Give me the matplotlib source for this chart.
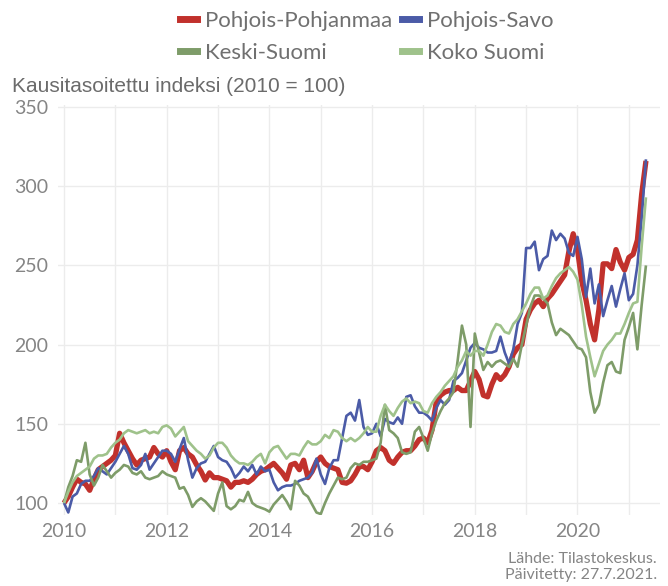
import numpy as np
import matplotlib
matplotlib.use("Agg")
import matplotlib.pyplot as plt
from matplotlib.lines import Line2D

start_year = 2010

pohjois_pohjanmaa = [
    100, 104, 110, 115, 113, 112, 108, 115, 121, 123, 125, 127,
    130, 144, 138, 133, 128, 124, 127, 128, 129, 135, 131, 129,
    133, 126, 121, 133, 135, 131, 129, 124, 120, 114.5, 119, 116,
    116, 115, 114, 110, 113, 113, 114, 113, 115, 118, 120, 121,
    123, 125, 122, 119, 115, 124, 125, 121, 127, 116, 120, 126,
    129, 125, 123, 122, 121, 113, 112.5, 114, 118, 123, 123, 121,
    126, 133, 135, 133, 127, 125, 129, 132, 133, 133, 136, 140,
    141, 138, 146, 164, 168, 170, 171, 171, 173, 171, 171, 177,
    183, 178, 168, 167, 175, 181, 178, 181, 186, 194, 198, 200,
    216, 222, 226, 228, 224, 229, 232, 236, 240, 244, 259, 270,
    260, 240, 228, 213, 203, 222, 251, 251, 248, 260, 252, 247,
    255, 257, 266, 295, 316,
]

pohjois_savo = [
    100, 94, 104, 106, 112, 114, 114, 117, 122, 120, 118, 122,
    126, 131, 136, 131, 122, 121, 124, 131, 121, 125, 129, 133,
    133, 131, 126, 134, 141, 127, 116, 122, 125, 126, 131, 136,
    129, 127, 126, 122, 116, 119, 123, 120, 124, 118, 123, 120,
    121, 113, 108, 110, 111, 111, 112, 114, 115, 116, 119, 128,
    118, 112, 122, 127, 127, 141, 155, 157, 152, 165, 148, 143,
    144, 150, 142, 153, 151, 150, 154, 150, 167, 168, 161, 157,
    157, 155, 152, 160, 165, 162, 165, 177, 179, 182, 190, 198,
    201, 198, 197, 195, 195, 196, 205, 195, 188, 197, 213, 220,
    261, 261, 265, 247, 254, 256, 272, 266, 270, 267, 258, 256,
    268, 254, 230, 248, 226, 238, 218, 228, 237, 224, 235, 245,
    228, 232, 250, 280, 317,
]

keski_suomi = [
    100, 110, 117, 127, 126, 138, 118, 111, 116, 124, 120, 116,
    119, 121, 124, 123, 119, 118, 120, 116, 115, 116, 117, 120,
    118, 117, 116, 109, 110, 105, 97.5, 101, 103, 101, 98, 95,
    106, 113, 98, 96, 98, 102, 101, 107, 100, 98, 97, 96,
    94.5, 99, 102, 105, 101, 96, 114, 111, 106, 104, 99, 94,
    93, 100, 106, 111, 116, 115, 116, 122, 125, 124, 126, 126,
    127, 128, 138, 162, 146, 144, 141, 132, 131, 132, 145, 148,
    141, 133, 144, 152, 158, 163, 166, 170, 190, 212, 200, 148,
    207, 195, 184, 189, 186, 189, 190, 188, 186, 191, 186, 200,
    212, 224, 231, 231, 229, 226, 214, 206, 210, 208, 206, 202,
    198, 197, 192, 170, 157, 162, 176, 187, 189, 183, 182, 203,
    211, 220, 197, 225, 250,
]

koko_suomi = [
    100, 107, 113, 117, 119, 121, 123, 128, 130, 130, 131, 135,
    138, 140, 144, 146, 145, 144, 145, 146, 144, 145, 144, 148,
    149, 147, 142, 145, 148, 139, 136, 133, 131, 128, 130, 135,
    138, 138, 135, 130, 127, 125, 125, 124, 126, 129, 131, 125,
    132, 135, 136, 132, 128, 131, 131, 130, 135, 139, 137, 137,
    139, 143, 141, 146, 145, 141, 139, 141, 139, 141, 144, 148,
    145, 145, 155, 162, 158, 155, 160, 164, 166, 163, 164, 163,
    158, 157, 163, 167, 170, 174, 177, 180, 186, 190, 196, 193,
    196, 196, 193, 200, 208, 213, 212, 208, 207, 213, 216, 221,
    226, 232, 236, 236, 229, 231, 237, 242, 245, 247, 249, 246,
    241, 225, 205, 192, 180, 188, 196, 200, 203, 207, 207, 213,
    220, 226, 227, 262, 293,
]

series_names = ["Pohjois-Pohjanmaa", "Pohjois-Savo", "Keski-Suomi", "Koko Suomi"]
series_values = [pohjois_pohjanmaa, pohjois_savo, keski_suomi, koko_suomi]
series_colors = ["#c1312c", "#4b5ba7", "#7e9c69", "#9fc28b"]
series_widths = [3.8, 1.9, 1.9, 1.9]

y_ticks = [100, 150, 200, 250, 300, 350]
x_ticks = [2010, 2012, 2014, 2016, 2018, 2020]
y_title = "Kausitasoitettu indeksi (2010 = 100)"
caption = "Lähde: Tilastokeskus.\nPäivitetty: 27.7.2021."

W, H = 668, 586
fig = plt.figure(figsize=(W / 100, H / 100), dpi=100)
ax = fig.add_axes([58 / W, 1 - 515 / H, (660 - 58) / W, (515 - 105) / H])

for name, vals, col, lw in zip(series_names, series_values, series_colors, series_widths):
    x = start_year + np.arange(len(vals)) / 12.0
    ax.plot(x, vals, color=col, lw=lw, solid_joinstyle="round", solid_capstyle="butt", label=name)

ax.set_xlim(2009.883, 2021.607)
ax.set_ylim(92.4, 351.3)
ax.set_yticks(y_ticks)
ax.set_xticks(x_ticks)
ax.set_xticks(range(2010, 2022), minor=True)
ax.grid(True, which="both", axis="x", color="#ececec", lw=1.0)
ax.grid(True, which="major", axis="y", color="#ececec", lw=1.0)
ax.set_axisbelow(True)
for s in ax.spines.values():
    s.set_visible(False)
ax.tick_params(which="both", length=0)
ax.tick_params(axis="y", pad=7, labelsize=14, labelcolor="#858585")
ax.tick_params(axis="x", pad=6, labelsize=14, labelcolor="#858585")
for lab in ax.get_xticklabels() + ax.get_yticklabels():
    lab.set_family("Lato")

fig.text(12 / W, 1 - 86 / H, y_title, ha="left", va="center",
         fontsize=15, color="#6b6b6b", family="Liberation Sans")

fig.text(657 / W, 1 - 567 / H, caption, ha="right", va="center",
         fontsize=11.5, color="#858585", family="Lato",
         linespacing=1.25)

handles = [Line2D([0], [0], color=c, lw=5) for c in series_colors]
order = [0, 2, 1, 3]
leg = fig.legend([handles[i] for i in order], [series_names[i] for i in order],
                 ncol=2, loc="center", bbox_to_anchor=(367 / W, 1 - 37 / H),
                 frameon=False, handlelength=0.76, handletextpad=0.36,
                 columnspacing=0.45, labelspacing=0.52,
                 prop={"family": "Lato", "size": 16})
for t in leg.get_texts():
    t.set_color("#707070")

fig.savefig("out.png", dpi=100, facecolor="white")
